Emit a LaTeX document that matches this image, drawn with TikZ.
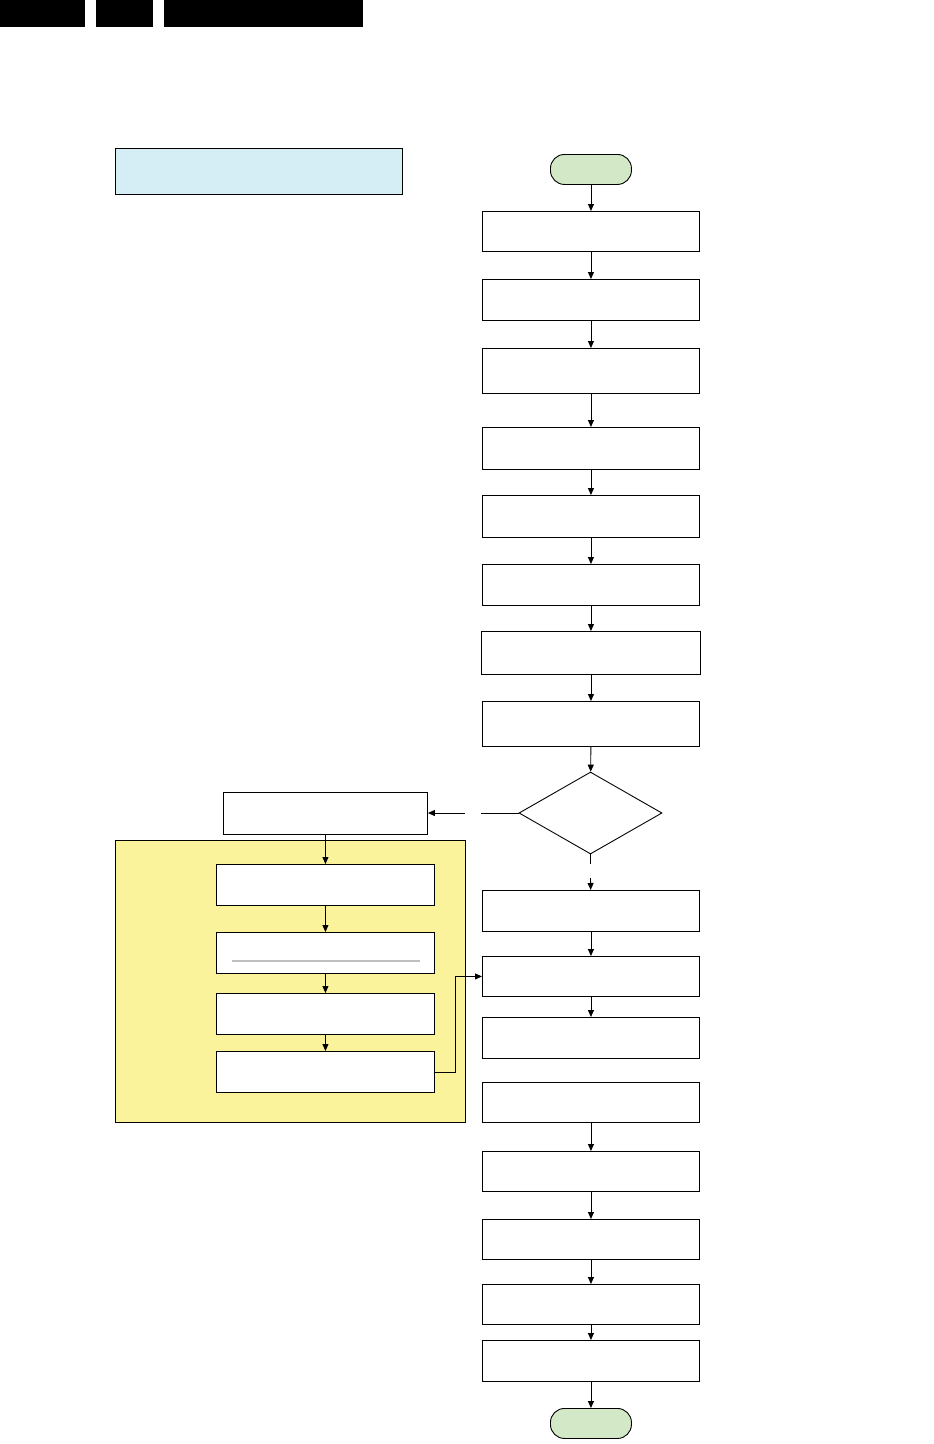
\documentclass[tikz,border=0pt]{standalone}
\usepackage{tikz}
\usetikzlibrary{arrows.meta,shapes.geometric}
\definecolor{startgreen}{HTML}{D3E8C7}
\definecolor{infoblue}{HTML}{D5EDF4}
\definecolor{groupyellow}{HTML}{FAF39C}
\definecolor{rulegray}{HTML}{BFBFBF}
\begin{document}
\begin{tikzpicture}[x=1pt,y=-1pt,line width=0.9pt,
  box/.style={draw,fill=white,anchor=north west,inner sep=0,minimum width=217pt},
  term/.style={draw,fill=startgreen,rounded corners=14pt,anchor=north west,inner sep=0,minimum width=81pt,minimum height=30pt},
  arr/.style={-{Triangle[width=6pt,length=7pt]}}]
\useasboundingbox (0,0) rectangle (934,1444);
% header bars
\fill (0,0) rectangle (85,27);
\fill (96,0) rectangle (153,27);
\fill (164,0) rectangle (363,27);
% info box
\node[draw,fill=infoblue,anchor=north west,inner sep=0,minimum width=287pt,minimum height=46pt] (info) at (115,148) {};
% group area
\draw[fill=groupyellow] (115,840) rectangle (465,1122);
% main column
\node[term] (start) at (550,154) {};
\node[box,minimum height=40pt] (b1) at (482,211) {};
\node[box,minimum height=41pt] (b2) at (482,279) {};
\node[box,minimum height=45pt] (b3) at (482,348) {};
\node[box,minimum height=42pt] (b4) at (482,427) {};
\node[box,minimum height=42pt] (b5) at (482,495) {};
\node[box,minimum height=41pt] (b6) at (482,564) {};
\node[box,minimum height=43pt,minimum width=219pt] (b7) at (481,631) {};
\node[box,minimum height=45pt] (b8) at (482,701) {};
\node[draw,diamond,inner sep=0,minimum width=143pt,minimum height=82pt] (dec) at (590.5,813) {};
\node[box,minimum height=41pt] (b9) at (482,890) {};
\node[box,minimum height=40pt] (b10) at (482,956) {};
\node[box,minimum height=41pt] (b11) at (482,1017) {};
\node[box,minimum height=40pt] (b12) at (482,1082) {};
\node[box,minimum height=40pt] (b13) at (482,1151) {};
\node[box,minimum height=40pt] (b14) at (482,1219) {};
\node[box,minimum height=40pt] (b15) at (482,1284) {};
\node[box,minimum height=41pt] (b16) at (482,1340) {};
\node[term] (stop) at (550,1408) {};
% side branch
\node[box,minimum width=204pt,minimum height=42pt] (side) at (223,792) {};
\node[box,minimum width=218pt,minimum height=41pt] (in1) at (216,864) {};
\node[box,minimum width=218pt,minimum height=41pt] (in2) at (216,932) {};
\draw[rulegray,line width=1.5pt] (232,961) -- (420,961);
\node[box,minimum width=218pt,minimum height=41pt] (in3) at (216,993) {};
\node[box,minimum width=218pt,minimum height=41pt] (in4) at (216,1051) {};
% connectors
\draw[arr] (start) -- (b1);
\draw[arr] (b1) -- (b2);
\draw[arr] (b2) -- (b3);
\draw[arr] (b3) -- (b4);
\draw[arr] (b4) -- (b5);
\draw[arr] (b5) -- (b6);
\draw[arr] (b6) -- (b7);
\draw[arr] (b7) -- (b8);
\draw[arr] (b8) -- (dec);
\coordinate (nogap1) at (590.5,864);
\coordinate (nogap2) at (590.5,878);
\draw (dec.south) -- (nogap1);
\draw[arr] (nogap2) -- (b9);
\coordinate (yesgap1) at (481,813);
\coordinate (yesgap2) at (465,813);
\draw (dec.west) -- (yesgap1);
\draw[arr] (yesgap2) -- (yesgap2 -| side.east);
\draw[arr] (side) -- (in1);
\draw[arr] (in1) -- (in2);
\draw[arr] (in2) -- (in3);
\draw[arr] (in3) -- (in4);
\draw[arr] (in4.east) -- ++(21,0) |- (b10.west);
\draw[arr] (b9) -- (b10);
\draw[arr] (b10) -- (b11);
\draw[arr] (b12) -- (b13);
\draw[arr] (b13) -- (b14);
\draw[arr] (b14) -- (b15);
\draw[arr] (b15) -- (b16);
\draw[arr] (b16) -- (stop);
\end{tikzpicture}
\end{document}
